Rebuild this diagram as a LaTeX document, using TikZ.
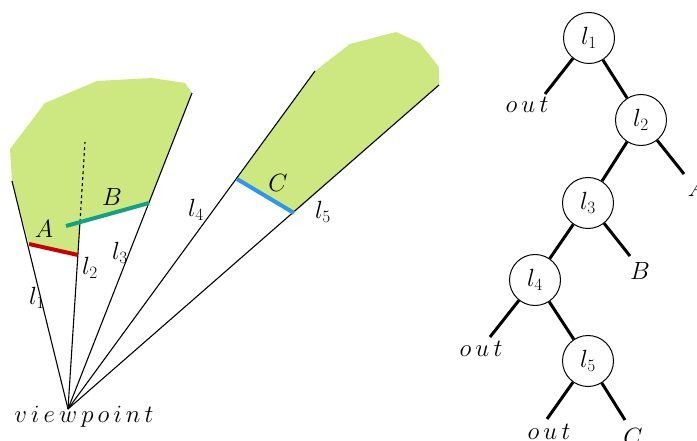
\documentclass[tikz,border=0pt]{standalone}
\begin{document}
\begin{tikzpicture}[x=1pt,y=-1pt,
  lab/.style={font=\fontsize{24}{28}\selectfont, inner sep=0pt},
  ray/.style={line width=1.1pt},
  seg/.style={line width=4pt},
  tnode/.style={circle,draw,line width=1pt,minimum size=51pt,inner sep=0pt,font=\fontsize{24}{28}\selectfont},
  tedge/.style={line width=3pt}]
\definecolor{zone}{RGB}{205,232,128}
\definecolor{segA}{RGB}{200,0,0}
\definecolor{segB}{RGB}{20,160,130}
\definecolor{segC}{RGB}{45,150,240}
\useasboundingbox (0,0) rectangle (697,441);
% coordinates of the scene
\coordinate (vp) at (68,409);
\coordinate (t1) at (12,181);
\coordinate (t2s) at (80,222);
\coordinate (t2) at (85,142);
\coordinate (t3) at (192,93);
\coordinate (t4) at (315,71);
\coordinate (t5) at (439,85);
\coordinate (a1) at (29,244);
\coordinate (a2) at (78,255);
\coordinate (b1) at (66,226);
\coordinate (b2) at (149,203);
\coordinate (c1) at (237,179);
\coordinate (c2) at (294,213);
% green regions
\fill[zone] (10,149) -- (45,103) -- (97,81) -- (152,78) -- (185,83) -- (t3) -- (b2) -- (t2s) -- (a2) -- (a1) -- (t1) -- cycle;
\fill[zone] (t4) -- (350,44) -- (396,32) -- (420,43) -- (439,67) -- (t5) -- (c2) -- (c1) -- cycle;
% rays
\draw[ray] (vp) -- (t1);
\draw[ray] (vp) -- (t2s);
\draw[ray,dashed] (t2s) -- (t2);
\draw[ray] (vp) -- (t3);
\draw[ray] (vp) -- (t4);
\draw[ray] (vp) -- (t5);
% segments
\draw[seg,segA] (a1) -- (a2);
\draw[seg,segB] (b1) -- (b2);
\draw[seg,segC] (c1) -- (c2);
% labels
\node[lab] (L1) at (37,298) {$l_1$};
\node[lab] (L2) at (90,268) {$l_2$};
\node[lab] (L3) at (120,253) {$l_3$};
\node[lab] (L4) at (196,210) {$l_4$};
\node[lab] (L5) at (323,212) {$l_5$};
\node[lab] (LA) at (44,229) {$A$};
\node[lab] (LB) at (112,197) {$B$};
\node[lab] (LC) at (278,183) {$C$};
\node[lab] (LV) at (84,417) {$v\,i\,e\,w\,p\,o\,i\,n\,t$};
% tree
\node[tnode] (n1) at (589,38) {$l_1$};
\node[tnode] (n2) at (641,120) {$l_2$};
\node[tnode] (n3) at (588,203) {$l_3$};
\node[tnode] (n4) at (535,280) {$l_4$};
\node[tnode] (n5) at (588,361) {$l_5$};
\coordinate (e1) at (545,94);
\coordinate (e2) at (684,174);
\coordinate (e3) at (630,256);
\coordinate (e4) at (490,337);
\coordinate (e5) at (547,419);
\coordinate (e6) at (625,420);
\draw[tedge] (n1) -- (e1);
\draw[tedge] (n1) -- (n2);
\draw[tedge] (n2) -- (n3);
\draw[tedge] (n2) -- (e2);
\draw[tedge] (n3) -- (n4);
\draw[tedge] (n3) -- (e3);
\draw[tedge] (n4) -- (e4);
\draw[tedge] (n4) -- (n5);
\draw[tedge] (n5) -- (e5);
\draw[tedge] (n5) -- (e6);
\node[lab] (o1) at (527,105) {$o\,u\,t$};
\node[lab] (tA) at (697,188) {$A$};
\node[lab] (tB) at (640,271) {$B$};
\node[lab] (o2) at (481,349) {$o\,u\,t$};
\node[lab] (o3) at (549,432) {$o\,u\,t$};
\node[lab] (tC) at (633,437) {$C$};
\end{tikzpicture}
\end{document}
